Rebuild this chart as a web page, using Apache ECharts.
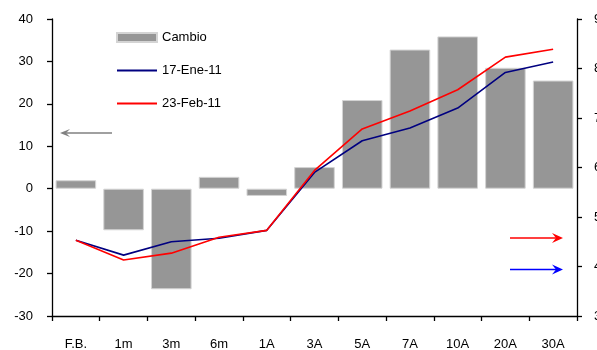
<!DOCTYPE html>
<html>
<head>
<meta charset="utf-8">
<script src="https://cdn.jsdelivr.net/npm/echarts@6/dist/echarts.min.js"></script>
<style>
  html, body { margin: 0; padding: 0; background: #fff; }
  #chart { width: 597px; height: 350px; }
</style>
</head>
<body>
<div id="chart"></div>
<script>
// Tenor buckets along the curve
const categories = ['F.B.', '1m', '3m', '6m', '1A', '3A', '5A', '7A', '10A', '20A', '30A'];
// Change between the two dates (left axis)
const cambio = [2.0, -9.8, -23.7, 2.8, -1.7, 5.1, 20.9, 32.8, 35.9, 28.5, 25.5];
// Yield curves (right axis)
const curveEne = [4.53, 4.23, 4.50, 4.57, 4.73, 5.90, 6.54, 6.80, 7.20, 7.92, 8.13];
const curveFeb = [4.53, 4.13, 4.27, 4.59, 4.73, 5.94, 6.78, 7.14, 7.57, 8.23, 8.39];
const leftTicks = { min: -30, max: 40, interval: 10 };
const rightTicks = { min: 3, max: 9, interval: 1 };

const FONT = '"Liberation Sans", Arial, sans-serif';
const chart = echarts.init(document.getElementById('chart'), null, { renderer: 'canvas' });

// Arrow glyph: a shaft plus a filled head
function arrow(x1, x2, y, color, len, half) {
  const dir = x2 > x1 ? 1 : -1;
  return {
    type: 'group',
    children: [
      { type: 'line', shape: { x1: x1, y1: y, x2: x2 - dir * 3, y2: y },
        style: { stroke: color, lineWidth: 1.6 } },
      { type: 'polygon',
        shape: { points: [[x2, y], [x2 - dir * len, y - half], [x2 - dir * (len - 4), y], [x2 - dir * len, y + half]] },
        style: { fill: color } }
    ]
  };
}

// Legend entries for the curves show only the line stroke
const hiddenSymbol = { color: 'rgba(0,0,0,0)', borderWidth: 0, opacity: 0 };

chart.setOption({
  animation: false,
  textStyle: { fontFamily: FONT },
  grid: { left: 52, right: 20, top: 19, bottom: 34, containLabel: false, outerBoundsMode: 'none' },
  legend: {
    orient: 'vertical',
    left: 116,
    top: 31,
    padding: 0,
    itemWidth: 40,
    itemHeight: 9,
    itemGap: 20,
    textStyle: { fontFamily: FONT, fontSize: 13, color: '#000' },
    data: [
      { name: 'Cambio', icon: 'rect' },
      { name: '17-Ene-11', itemStyle: hiddenSymbol },
      { name: '23-Feb-11', itemStyle: hiddenSymbol }
    ]
  },
  xAxis: {
    type: 'category',
    data: categories,
    boundaryGap: true,
    axisLine: { onZero: false, lineStyle: { color: '#000', width: 1.3 } },
    axisTick: { show: true, interval: 0, length: 5, lineStyle: { color: '#000', width: 1.3 } },
    axisLabel: { interval: 0, margin: 22, fontSize: 13, color: '#000', fontFamily: FONT },
    splitLine: { show: false }
  },
  yAxis: [
    {
      type: 'value',
      min: leftTicks.min, max: leftTicks.max, interval: leftTicks.interval,
      axisLine: { show: true, lineStyle: { color: '#000', width: 1.3 } },
      axisTick: { show: true, length: 5, lineStyle: { color: '#000', width: 1.3 } },
      axisLabel: { margin: 19, fontSize: 13, color: '#000', fontFamily: FONT },
      splitLine: { show: false }
    },
    {
      type: 'value',
      position: 'right',
      min: rightTicks.min, max: rightTicks.max, interval: rightTicks.interval,
      axisLine: { show: true, lineStyle: { color: '#000', width: 1.3 } },
      axisTick: { show: true, length: 5, lineStyle: { color: '#000', width: 1.3 } },
      axisLabel: { margin: 17, fontSize: 13, color: '#000', fontFamily: FONT },
      splitLine: { show: false }
    }
  ],
  series: [
    {
      name: 'Cambio',
      type: 'bar',
      yAxisIndex: 0,
      data: cambio,
      barCategoryGap: '15%',
      itemStyle: { color: '#969696', borderColor: '#d4d4d4', borderWidth: 1 },
      z: 1
    },
    {
      name: '17-Ene-11',
      type: 'line',
      yAxisIndex: 1,
      data: curveEne,
      symbol: 'none',
      lineStyle: { color: '#000080', width: 1.6 },
      itemStyle: { color: '#000080' },
      z: 3
    },
    {
      name: '23-Feb-11',
      type: 'line',
      yAxisIndex: 1,
      data: curveFeb,
      symbol: 'none',
      lineStyle: { color: '#ff0000', width: 1.6 },
      itemStyle: { color: '#ff0000' },
      z: 4
    }
  ],
  graphic: [
    arrow(112, 60, 133, '#808080', 10, 4),
    arrow(510, 563, 238, '#ff0000', 11, 5),
    arrow(510, 563, 269.5, '#0000ff', 11, 5)
  ]
});
</script>
</body>
</html>
